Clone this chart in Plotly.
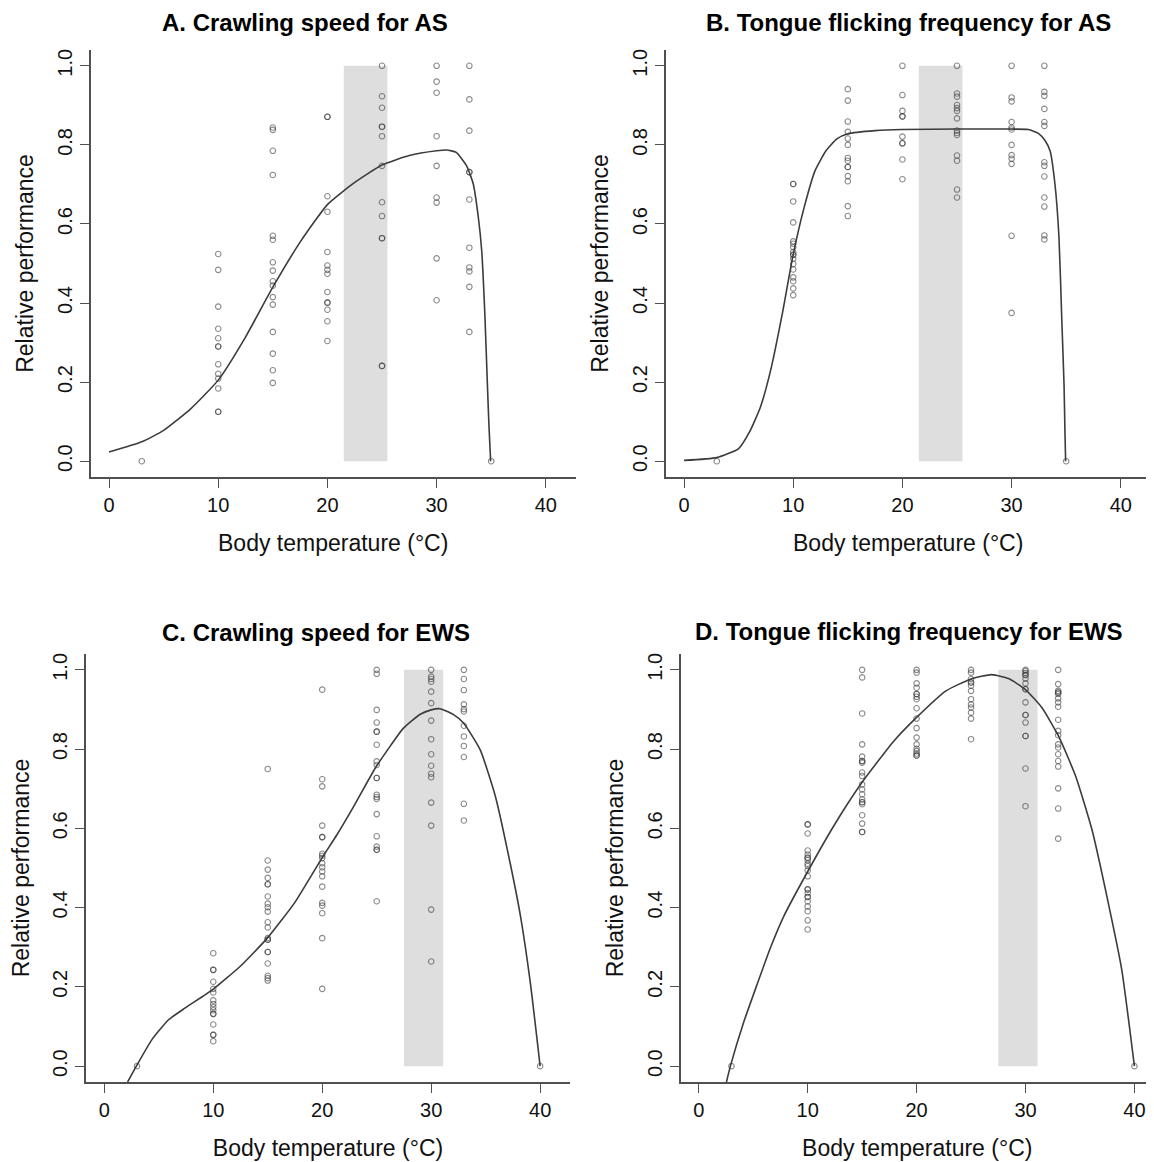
import plotly.graph_objects as go

# ---------------- data ----------------
temps_A = [3, 10, 15, 20, 25, 30, 33, 35]
perf_A = [
    [0.0],
    [0.524, 0.484, 0.391, 0.335, 0.311, 0.290, 0.290, 0.245, 0.221, 0.209, 0.184, 0.125, 0.125],
    [0.844, 0.838, 0.785, 0.724, 0.570, 0.560, 0.503, 0.482, 0.455, 0.444, 0.415, 0.396, 0.327, 0.272, 0.230, 0.198],
    [0.871, 0.871, 0.670, 0.631, 0.529, 0.495, 0.484, 0.474, 0.428, 0.401, 0.401, 0.383, 0.354, 0.304],
    [1.0, 0.923, 0.894, 0.846, 0.846, 0.822, 0.747, 0.655, 0.620, 0.564, 0.564, 0.241, 0.241],
    [1.0, 0.960, 0.932, 0.822, 0.747, 0.667, 0.654, 0.513, 0.407],
    [1.0, 0.915, 0.836, 0.731, 0.731, 0.662, 0.540, 0.490, 0.480, 0.441, 0.327],
    [0.0],
]
curve_A_x = [0, 3, 5, 7.5, 10, 12.5, 15, 17.5, 20, 22.5, 25, 27.5, 30, 30.9, 31.8, 32.75, 33.36, 33.82, 34.13, 34.43, 34.65, 34.8, 34.95]
curve_A_y = [0.023, 0.049, 0.078, 0.133, 0.205, 0.314, 0.44, 0.554, 0.649, 0.705, 0.749, 0.773, 0.785, 0.787, 0.781, 0.747, 0.701, 0.617, 0.533, 0.364, 0.196, 0.087, 0.0]
band_A = [21.5, 25.5]

temps_B = [3, 10, 15, 20, 25, 30, 33, 35]
perf_B = [
    [0.0],
    [0.701, 0.701, 0.657, 0.604, 0.556, 0.550, 0.541, 0.529, 0.522, 0.522, 0.512, 0.499, 0.485, 0.465, 0.455, 0.437, 0.420],
    [0.941, 0.912, 0.859, 0.833, 0.816, 0.800, 0.767, 0.760, 0.744, 0.744, 0.721, 0.708, 0.645, 0.620],
    [1.0, 0.926, 0.886, 0.872, 0.872, 0.821, 0.804, 0.804, 0.763, 0.713],
    [1.0, 0.930, 0.922, 0.901, 0.893, 0.886, 0.867, 0.836, 0.830, 0.825, 0.773, 0.760, 0.687, 0.667],
    [1.0, 0.920, 0.910, 0.858, 0.844, 0.839, 0.800, 0.774, 0.765, 0.752, 0.570, 0.375],
    [1.0, 0.934, 0.924, 0.891, 0.858, 0.848, 0.756, 0.747, 0.720, 0.667, 0.644, 0.571, 0.561],
    [0.0],
]
curve_B_x = [0, 3, 5, 6, 7, 8, 9, 10, 11, 12, 13, 14, 15, 17.5, 20, 25, 30, 31.53, 32.45, 33.06, 33.52, 33.97, 34.34, 34.59, 34.8, 34.89, 34.95]
curve_B_y = [0.002, 0.009, 0.032, 0.074, 0.137, 0.238, 0.373, 0.523, 0.642, 0.735, 0.785, 0.815, 0.828, 0.836, 0.839, 0.840, 0.840, 0.839, 0.829, 0.811, 0.785, 0.701, 0.566, 0.364, 0.196, 0.070, 0.0]
band_B = [21.5, 25.5]

temps_C = [3, 10, 15, 20, 25, 30, 33, 40]
perf_C = [
    [0.0],
    [0.285, 0.243, 0.243, 0.213, 0.195, 0.186, 0.166, 0.157, 0.149, 0.141, 0.132, 0.132, 0.105, 0.079, 0.079, 0.063],
    [0.750, 0.519, 0.496, 0.475, 0.459, 0.459, 0.428, 0.410, 0.401, 0.390, 0.363, 0.350, 0.323, 0.319, 0.319, 0.288, 0.288, 0.259, 0.228, 0.222, 0.216],
    [0.950, 0.724, 0.706, 0.607, 0.578, 0.578, 0.536, 0.531, 0.525, 0.512, 0.502, 0.491, 0.479, 0.453, 0.412, 0.405, 0.386, 0.323, 0.195],
    [1.0, 0.990, 0.899, 0.867, 0.844, 0.844, 0.811, 0.769, 0.760, 0.727, 0.727, 0.685, 0.679, 0.674, 0.636, 0.580, 0.554, 0.546, 0.546, 0.416],
    [1.0, 0.983, 0.977, 0.970, 0.945, 0.916, 0.872, 0.825, 0.787, 0.758, 0.738, 0.729, 0.665, 0.607, 0.395, 0.264],
    [1.0, 0.977, 0.949, 0.913, 0.901, 0.895, 0.859, 0.832, 0.808, 0.780, 0.662, 0.620],
    [0.0],
]
curve_C_x = [2.14, 2.94, 4.37, 5.9, 7.43, 9.94, 12.48, 14.96, 17.46, 19.97, 21.35, 22.88, 24.96, 27.46, 29.0, 30.0, 30.8, 32.05, 32.97, 34.5, 35.9, 37.25, 38.2, 39.1, 40.0]
curve_C_y = [-0.04, 0.0, 0.067, 0.117, 0.147, 0.193, 0.252, 0.323, 0.412, 0.525, 0.584, 0.655, 0.756, 0.853, 0.888, 0.899, 0.902, 0.887, 0.866, 0.798, 0.68, 0.512, 0.378, 0.21, 0.0]
band_C = [27.5, 31.1]

temps_D = [3, 10, 15, 20, 25, 30, 33, 40]
perf_D = [
    [0.0],
    [0.610, 0.610, 0.587, 0.544, 0.534, 0.526, 0.526, 0.520, 0.511, 0.505, 0.494, 0.479, 0.446, 0.446, 0.437, 0.427, 0.427, 0.416, 0.403, 0.391, 0.368, 0.345],
    [1.0, 0.981, 0.890, 0.812, 0.781, 0.770, 0.770, 0.766, 0.741, 0.732, 0.711, 0.698, 0.686, 0.673, 0.666, 0.666, 0.661, 0.633, 0.612, 0.591, 0.591],
    [1.0, 0.993, 0.966, 0.955, 0.939, 0.939, 0.932, 0.926, 0.903, 0.877, 0.853, 0.829, 0.812, 0.801, 0.795, 0.789, 0.784, 0.784],
    [1.0, 0.993, 0.977, 0.968, 0.968, 0.960, 0.947, 0.926, 0.913, 0.905, 0.892, 0.877, 0.825],
    [1.0, 0.997, 0.992, 0.987, 0.987, 0.978, 0.966, 0.951, 0.951, 0.918, 0.886, 0.886, 0.867, 0.833, 0.833, 0.751, 0.656],
    [1.0, 0.964, 0.947, 0.943, 0.943, 0.939, 0.928, 0.918, 0.907, 0.874, 0.846, 0.835, 0.812, 0.804, 0.787, 0.770, 0.756, 0.701, 0.650, 0.574],
    [0.0],
]
curve_D_x = [2.54, 2.9, 4.1, 5.35, 6.57, 7.8, 9.94, 12.39, 14.96, 17.9, 20.0, 22.7, 25.0, 26.9, 28.45, 29.97, 31.5, 33.05, 34.6, 36.1, 37.6, 38.84, 40.0]
curve_D_y = [-0.04, 0.0, 0.109, 0.206, 0.298, 0.378, 0.488, 0.606, 0.715, 0.82, 0.880, 0.947, 0.977, 0.988, 0.978, 0.951, 0.905, 0.832, 0.732, 0.597, 0.412, 0.243, 0.0]
band_D = [27.5, 31.1]

titles = ["A. Crawling speed for AS", "B. Tongue flicking frequency for AS",
          "C. Crawling speed for EWS", "D. Tongue flicking frequency for EWS"]
x_ticks = [0, 10, 20, 30, 40]
y_ticks = [0.0, 0.2, 0.4, 0.6, 0.8, 1.0]
x_title = "Body temperature (°C)"
y_title = "Relative performance"

# ---------------- figure ----------------
# the page body has an 8px margin, so the figure is 8px smaller on each axis
OFF = 8
W, H = 1154 - OFF, 1162 - OFF
FONT = "Liberation Sans, Arial, Helvetica, sans-serif"

fig = go.Figure()

panels = [
    (temps_A, perf_A, curve_A_x, curve_A_y, band_A),
    (temps_B, perf_B, curve_B_x, curve_B_y, band_B),
    (temps_C, perf_C, curve_C_x, curve_C_y, band_C),
    (temps_D, perf_D, curve_D_x, curve_D_y, band_D),
]

# pixel boxes (left, right, top, bottom) of each plotting region, in page pixels
boxes = [
    (90.7, 575.7, 50, 477),
    (665.7, 1150.7, 50, 477),
    (86.0, 570.0, 654, 1082),
    (680.5, 1154.0, 654, 1082),
]
x_ranges = [[-1.68, 42.74], [-1.68, 42.74], [-1.68, 42.74], [-1.68, 41.8]]
title_pos = [(305, 22), (908, 22), (316, 632), (909, 631)]

for i, (temps, perf, cx, cy, band) in enumerate(panels):
    sfx = "" if i == 0 else str(i + 1)
    xa, ya = "x" + sfx, "y" + sfx
    px, py = [], []
    for t, vals in zip(temps, perf):
        for v in vals:
            px.append(t)
            py.append(v)
    fig.add_trace(go.Scatter(
        x=cx, y=cy, mode="lines", xaxis=xa, yaxis=ya,
        line=dict(color="#3c3c3c", width=1.6, shape="spline", smoothing=0.5),
        showlegend=False, hoverinfo="skip"))
    fig.add_trace(go.Scatter(
        x=px, y=py, mode="markers", xaxis=xa, yaxis=ya,
        marker=dict(symbol="circle-open", size=5.5, color="rgba(60,60,60,0.6)",
                    line=dict(width=1.1)),
        showlegend=False))
    fig.add_shape(type="rect", xref=xa, yref=ya, x0=band[0], x1=band[1], y0=0, y1=1,
                  fillcolor="#dedede", line=dict(width=0), layer="below")

    l, r, t, b = [v - OFF for v in boxes[i]]
    r = min(r, W)
    axis_common = dict(showline=True, linecolor="#505050", linewidth=1.5,
                       ticks="outside", ticklen=9, tickwidth=1.3, tickcolor="#505050",
                       showgrid=False, zeroline=False, automargin=False,
                       tickfont=dict(family=FONT, size=20, color="#111"))
    fig.update_layout(**{
        "xaxis" + sfx: dict(domain=[l / W, r / W], range=x_ranges[i], anchor=ya,
                            tickvals=x_ticks,
                            title=dict(text=x_title, font=dict(family=FONT, size=23, color="#111"),
                                       standoff=20),
                            **axis_common),
        "yaxis" + sfx: dict(domain=[1 - b / H, 1 - t / H], range=[-0.04, 1.04], anchor=xa,
                            tickvals=y_ticks, tickformat=".1f", tickangle=-90,
                            title=dict(text=y_title, font=dict(family=FONT, size=23, color="#111"),
                                       standoff=14),
                            **axis_common),
    })
    tx, ty = title_pos[i]
    fig.add_annotation(text="<b>" + titles[i] + "</b>", xref="paper", yref="paper",
                       x=(tx - OFF) / W, y=1 - (ty - OFF) / H, xanchor="center", yanchor="middle",
                       showarrow=False, font=dict(family=FONT, size=24, color="#000"))

fig.update_layout(width=W, height=H, margin=dict(l=0, r=0, t=0, b=0),
                  paper_bgcolor="white", plot_bgcolor="white")

fig.write_html("out.html")
